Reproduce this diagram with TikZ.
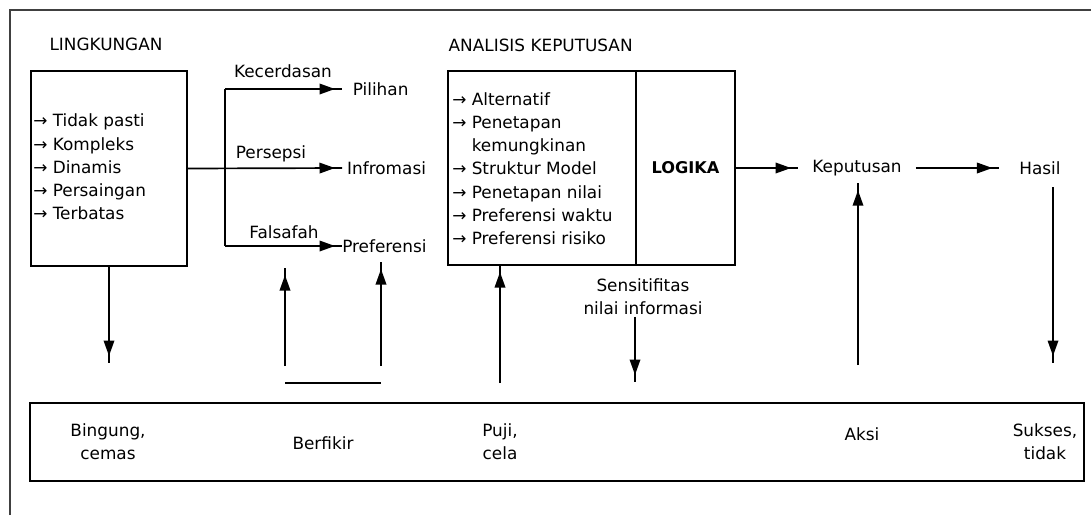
\documentclass[tikz,border=0pt]{standalone}
\usepackage{fontspec}
\setmainfont{DejaVu Sans}
\usetikzlibrary{arrows.meta,decorations.markings,positioning}
\newcommand{\ra}{→\ }
\tikzset{
  box/.style={draw, line width=1.2pt, inner sep=0pt, outer sep=0pt},
  txt/.style={font=\fontsize{12}{16.5}\selectfont, inner sep=1pt},
  list/.style={align=left, inner sep=0pt, font=\fontsize{12}{16.5}\selectfont},
  flow/.style={line width=1.2pt, postaction={decorate},
    decoration={markings, mark=at position -5pt with {\arrow{Triangle[length=11pt,width=7.5pt]}}}},
  link/.style={line width=1.2pt},
}
\begin{document}
\begin{tikzpicture}[x=0.025cm, y=-0.025cm]
  \useasboundingbox (0,0) rectangle (1091,515);
  \draw[line width=1.3pt, black!75] (10,515) |- (1091,10);

  \node[txt] (lingkungan) at (106,44) {LINGKUNGAN};
  \node[txt, anchor=west] (analisis) at (447,45) {ANALISIS KEPUTUSAN};

  \node[box, minimum width=3.9cm, minimum height=4.875cm] (env) at (109,168.5) {};
  \node[list, anchor=west] (envlist) at (33,167)
    {\ra Tidak pasti\\ \ra Kompleks\\ \ra Dinamis\\ \ra Persaingan\\ \ra Terbatas};

  \node[txt, anchor=west, inner xsep=7.5pt] (pilihan) at (342,89) {Pilihan};
  \node[txt, anchor=west, inner xsep=3.5pt] (infromasi) at (342,168) {Infromasi};
  \node[txt, anchor=west, inner xsep=0pt] (preferensi) at (342,246) {Preferensi};
  \node[txt] (kecerdasan) at (283,71) {Kecerdasan};
  \node[txt] (persepsi) at (271,154) {Persepsi};
  \node[txt] (falsafah) at (284,232) {Falsafah};

  \coordinate (fork top) at (225,89);
  \coordinate (fork bot) at (225,246);
  \draw[link] (fork top) -- (fork bot);
  \draw[flow] (env.east) -- (infromasi.west);
  \draw[flow] (fork top) -- (pilihan.west);
  \draw[flow] (fork bot) -- (preferensi.west);

  \node[box, minimum width=4.7cm, minimum height=4.85cm] (alt) at (542,168) {};
  \node[box, minimum width=2.475cm, minimum height=4.85cm, right=0pt of alt,
    font=\fontsize{11.5}{16}\selectfont\bfseries] (logika) {LOGIKA};
  \node[list, anchor=west] (altlist) at (452,168.5)
    {\ra Alternatif\\ \ra Penetapan\\ \phantom{\ra}kemungkinan\\ \ra Struktur Model\\
     \ra Penetapan nilai\\ \ra Preferensi waktu\\ \ra Preferensi risiko};

  \node[txt, inner xsep=10pt, inner ysep=5pt] (keputusan) at (857,168) {Keputusan};
  \node[txt, inner xsep=14pt, inner ysep=9pt] (hasil) at (1040,168) {Hasil};
  \node[txt, align=center] (sensitifitas) at (643,297) {Sensitifitas\\ nilai informasi};

  \node[box, minimum width=26.35cm, minimum height=1.95cm] (bawah) at (557,442) {};
  \node[txt, align=center] (bingung) at (108,442) {Bingung,\\ cemas};
  \node[txt] (berfikir) at (323,443) {Berfikir};
  \node[txt, align=center] (puji) at (500,442) {Puji,\\ cela};
  \node[txt] (aksi) at (862,434) {Aksi};
  \node[txt, align=center] (sukses) at (1045,442) {Sukses,\\ tidak};

  \coordinate (env end) at (109,363);
  \coordinate (bf left) at (285,366);
  \coordinate (bf right) at (381,366);
  \coordinate (bf left end) at (285,268);
  \coordinate (bf right end) at (381,262);
  \coordinate (bf line left) at (285,383);
  \coordinate (bf line right) at (381,383);
  \coordinate (puji start) at (500,383);
  \coordinate (sens end) at (635,382);
  \coordinate (aksi start) at (858,365);
  \coordinate (hasil end) at (1053,363);

  \draw[flow] (env.south) -- (env end);
  \draw[flow] (bf left) -- (bf left end);
  \draw[flow] (bf right) -- (bf right end);
  \draw[link] (bf line left) -- (bf line right);
  \draw[flow] (puji start) -- (alt.south -| puji start);
  \draw[flow] (sensitifitas.south -| sens end) -- (sens end);
  \draw[flow] (aksi start) -- (keputusan.south -| aksi start);
  \draw[flow] (hasil.south -| hasil end) -- (hasil end);
  \draw[flow] (logika.east) -- (keputusan.west);
  \draw[flow] (keputusan.east) -- (hasil.west);
\end{tikzpicture}
\end{document}
